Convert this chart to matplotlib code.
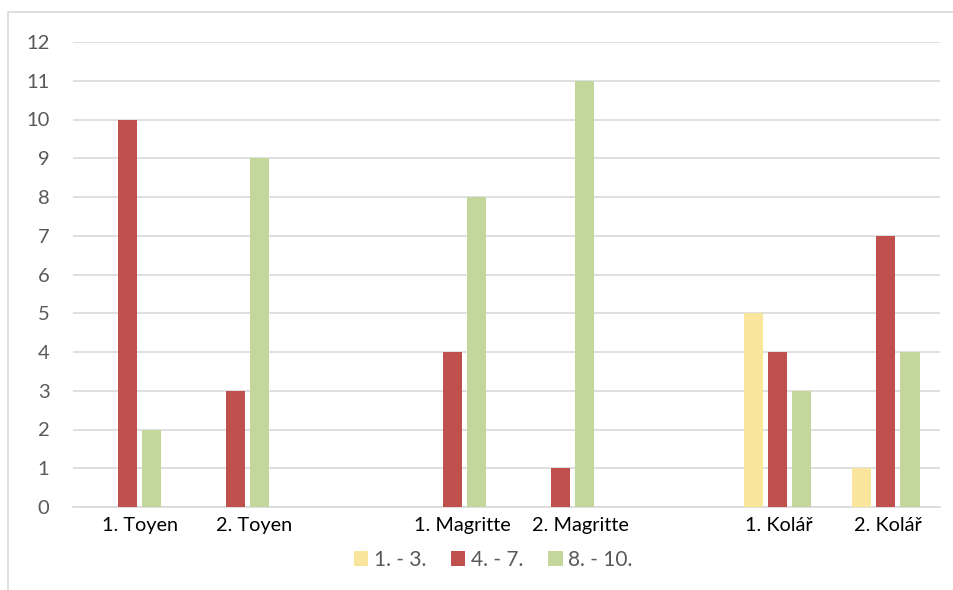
import numpy as np
import matplotlib
matplotlib.use('Agg')
import matplotlib.pyplot as plt
import matplotlib.transforms as mtransforms
from matplotlib.patches import Rectangle


# Painting rankings per viewing, grouped by rank band.
categories = ["1. Toyen", "2. Toyen", "", "1. Magritte", "2. Magritte", "", "1. Kolář", "2. Kolář"]
rank_1_3 = [0, 0, 0, 0, 0, 0, 5, 1]
rank_4_7 = [10, 3, 0, 4, 1, 0, 4, 7]
rank_8_10 = [2, 9, 0, 8, 11, 0, 3, 4]
series_names = ["1. - 3.", "4. - 7.", "8. - 10."]

colors = ["#F9E59C", "#C0504D", "#C3D69B"]
label_shift_px = [13, 18, 0, 10, 20, 0, 1, 2]

plt.rcParams['font.family'] = ['Lato', 'DejaVu Sans']

fig = plt.figure(figsize=(9.54, 5.90), dpi=100)
fig.patch.set_facecolor('white')

# light frame around the chart area
fig.patches.append(Rectangle((8 / 954, -0.1), 1.1, 1 - 12 / 590 + 0.1,
                             transform=fig.transFigure, fill=False,
                             edgecolor='#D9D9D9', linewidth=1.2))

ax = fig.add_axes([73 / 954, 1 - 507 / 590, (940 - 73) / 954, (507 - 42) / 590])

x = np.arange(len(categories))
pitch = 0.222
width = 0.178
all_series = [rank_1_3, rank_4_7, rank_8_10]
for i, (vals, name, col) in enumerate(zip(all_series, series_names, colors)):
    ax.bar(x + (i - 1) * pitch, vals, width=width, color=col, label=name, zorder=3)

ax.set_xlim(-0.5, len(categories) - 0.5)
ax.set_ylim(0, 12)
ax.set_yticks(range(0, 13))
ax.yaxis.grid(True, color='#D9D9D9', linewidth=1.2, zorder=0)
ax.set_axisbelow(True)

for side in ['top', 'right', 'left']:
    ax.spines[side].set_visible(False)
ax.spines['bottom'].set_color('#D9D9D9')
ax.spines['bottom'].set_linewidth(1.2)

ax.set_xticks(x)
ax.set_xticklabels(categories, fontsize=14.3, color='#000000')
ax.tick_params(axis='x', length=0, pad=7)
ax.tick_params(axis='y', length=0, pad=17, labelsize=14.5, labelcolor='#595959')

for lbl, shift in zip(ax.get_xticklabels(), label_shift_px):
    lbl.set_transform(lbl.get_transform() +
                      mtransforms.ScaledTranslation(shift / 100, 0, fig.dpi_scale_trans))

leg = fig.legend(loc='center', bbox_to_anchor=(493 / 954, 1 - 560 / 590), ncol=3,
                 frameon=False, fontsize=15, handlelength=0.7, handleheight=0.7,
                 handletextpad=0.25, columnspacing=1.2)
for t in leg.get_texts():
    t.set_color('#595959')

fig.savefig('out.png', dpi=100, facecolor='white')
